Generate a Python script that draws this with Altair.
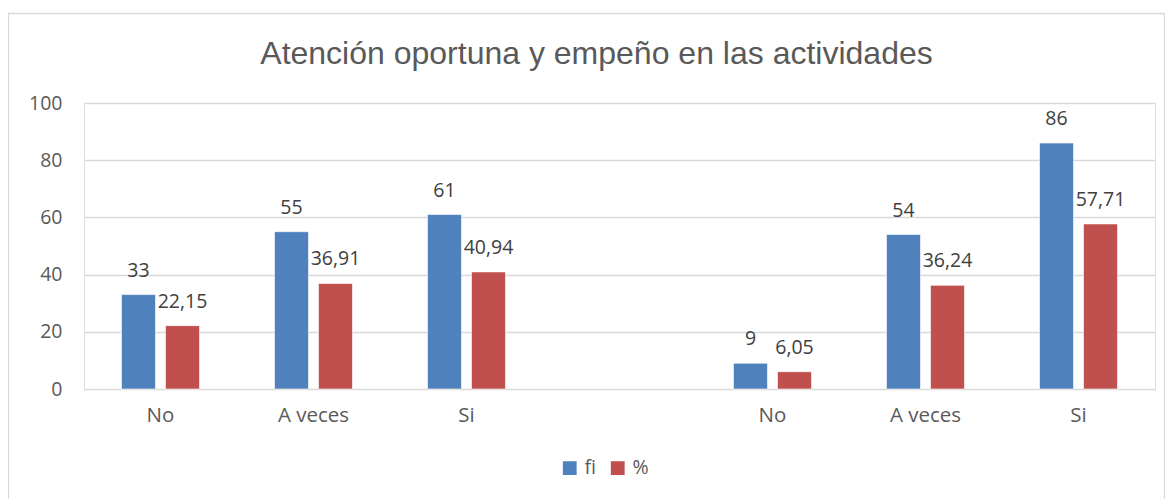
import altair as alt
import pandas as pd

categories = ["No", "A veces", "Si", "No", "A veces", "Si"]
groups = ["1", "1", "1", "2", "2", "2"]
fi_values = [33, 55, 61, 9, 54, 86]
pct_values = [22.15, 36.91, 40.94, 6.05, 36.24, 57.71]
series = ["fi", "%"]
colors = ["#4f81bd", "#c0504d"]
y_ticks = [0, 20, 40, 60, 80, 100]
title_text = "Atención oportuna y empeño en las actividades"

keys = [g + "|" + c for g, c in zip(groups, categories)]
domain = keys[:3] + ["gap|"] + keys[3:]

rows = []
for k, f, p in zip(keys, fi_values, pct_values):
    rows.append({"cat": k, "serie": "fi", "valor": f, "etiqueta": str(f)})
    rows.append({"cat": k, "serie": "%", "valor": p, "etiqueta": f"{p:.2f}".replace(".", ",")})
df = pd.DataFrame(rows)

W, H = 1071, 286
LABEL_FONT = "Open Sans"
FS = 19.5

x = alt.X("cat:N", sort=domain,
          scale=alt.Scale(domain=domain, paddingInner=0.49, paddingOuter=0.245),
          axis=alt.Axis(title=None, labelAngle=0, ticks=False, domain=False,
                        labelExpr="split(datum.label, '|')[1]",
                        labelFont=LABEL_FONT, labelFontSize=20.5, labelColor="#595959",
                        labelPadding=16))
xo = alt.XOffset("serie:N", sort=series,
                 scale=alt.Scale(domain=series, paddingInner=0.227, paddingOuter=0))

base = alt.Chart(df)

bars = base.mark_bar(stroke="white", strokeWidth=0.6).encode(
    x=x,
    xOffset=xo,
    y=alt.Y("valor:Q", scale=alt.Scale(domain=[0, 100]),
            axis=alt.Axis(title=None, values=y_ticks, ticks=False, domain=False,
                          gridColor="#d9d9d9", gridWidth=1.3,
                          labelFont=LABEL_FONT, labelFontSize=FS, labelColor="#595959",
                          labelPadding=22)),
    color=alt.Color("serie:N", sort=series,
                    scale=alt.Scale(domain=series, range=colors),
                    legend=alt.Legend(title=None, orient="none", direction="horizontal",
                                      legendX=476, legendY=355,
                                      symbolType="square", symbolSize=190,
                                      symbolStrokeWidth=0,
                                      labelFont=LABEL_FONT, labelFontSize=FS,
                                      labelColor="#595959", columnPadding=12,
                                      labelOffset=5)),
)

labels = base.mark_text(baseline="alphabetic", dy=-18, font=LABEL_FONT,
                        fontSize=FS, color="#404040").encode(
    x=alt.X("cat:N", sort=domain),
    xOffset=alt.XOffset("serie:N", sort=series),
    y="valor:Q",
    text="etiqueta:N",
)

deco = pd.DataFrame({"t": [title_text]})
frame = alt.Chart(deco).mark_rect(
    fill=None, stroke="#d9d9d9", strokeWidth=1.3
).encode(x=alt.value(-75.5), x2=alt.value(W + 9.5), y=alt.value(-89.5), y2=alt.value(H + 150))

title = alt.Chart(deco).mark_text(
    font="Liberation Sans", fontSize=32, color="#595959",
    align="center", baseline="alphabetic"
).encode(x=alt.value(512.5), y=alt.value(-39), text="t:N")

chart = alt.layer(frame, title, bars, labels).properties(
    width=W, height=H,
    autosize=alt.AutoSizeParams(type="none"),
    padding={"left": 76, "top": 95, "right": 10, "bottom": 110},
).configure_view(stroke=None).configure(background="white")

chart.save("out.html", embed_options={"renderer": "svg", "actions": False})
